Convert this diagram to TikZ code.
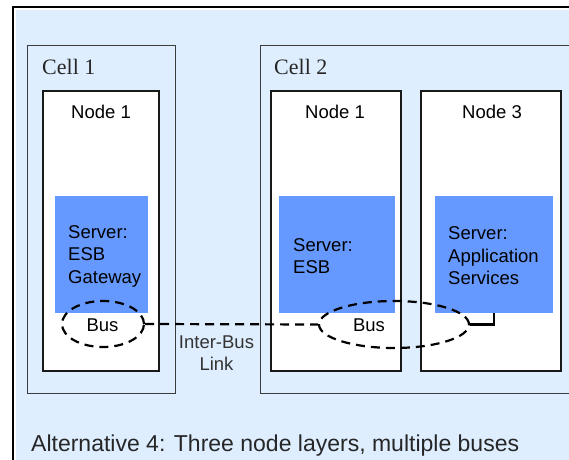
\documentclass[tikz,border=0pt]{standalone}
\usepackage{fontspec}
\setmainfont{Liberation Sans}
\newfontfamily\cellfont{Liberation Serif}
\usetikzlibrary{shapes.geometric}
\definecolor{bgblue}{RGB}{222,238,255}
\definecolor{srvblue}{RGB}{102,153,255}
\definecolor{cellgray}{RGB}{60,60,60}
\tikzset{
  cellbox/.style={draw=cellgray, line width=0.9bp},
  nodebox/.style={draw=black!90, line width=2.6bp, fill=white},
  srvbox/.style={fill=srvblue},
  lbl/.style={font=\fontsize{18.5bp}{22.5bp}\selectfont, inner sep=0pt},
  celllbl/.style={font=\cellfont\fontsize{22bp}{26bp}\selectfont, inner sep=0pt, text=black!85},
  busell/.style={draw=black, line width=2.2bp, dash pattern=on 9bp off 6bp, ellipse, inner sep=0pt},
  buslink/.style={draw=black, line width=2.2bp, dash pattern=on 9bp off 6bp},
}
\begin{document}
\begin{tikzpicture}[x=1bp,y=-1bp]
\useasboundingbox (0,0) rectangle (569,460);
\fill[white] (0,0) rectangle (569,460);
% outer frame
\begin{scope}
\clip (0,0) rectangle (569,460);
\draw[black, line width=1.2bp] (13,470) -- (13,7) -- (580,7);
\fill[bgblue] (16,10) rectangle (580,470);
% cells
\draw[cellbox] (27,45) rectangle (175,393);
\draw[cellbox] (590,45) -- (260,45) -- (260,393) -- (590,393);
\end{scope}
\node[celllbl, anchor=base west] (c1) at (42,75) {Cell 1};
\node[celllbl, anchor=base west] (c2) at (274,75) {Cell 2};
% node boxes
\draw[nodebox] (43,91) rectangle (159,371);
\draw[nodebox] (271,91) rectangle (401,371);
\draw[nodebox] (421,91) rectangle (561,371);
\node[lbl, anchor=base] (n1a) at (101,119) {Node 1};
\node[lbl, anchor=base] (n1b) at (335,119) {Node 1};
\node[lbl, anchor=base] (n3) at (492,119) {Node 3};
% servers
\node[srvbox, minimum width=93bp, minimum height=117bp, inner sep=0pt] (srv1) at (101.5,254.5) {};
\node[srvbox, minimum width=116bp, minimum height=117bp, inner sep=0pt] (srv2) at (337,254.5) {};
\node[srvbox, minimum width=118bp, minimum height=117bp, inner sep=0pt] (srv3) at (494,254.5) {};
\node[lbl, anchor=west, align=left] (t1) at (68,256) {Server:\\ESB\\Gateway};
\node[lbl, anchor=west, align=left] (t2) at (293,256) {Server:\\ESB};
\node[lbl, anchor=west, align=left] (t3) at (448,256) {Server:\\Application\\Services};
% buses
\node[busell, minimum width=82bp, minimum height=46bp] (bus1) at (103,324) {};
\node[busell, minimum width=150bp, minimum height=47bp] (bus2) at (394,324.5) {};
\node[lbl, anchor=base] (b1) at (102.5,331.5) {Bus};
\node[lbl, anchor=base] (b2) at (369,331.5) {Bus};
\draw[buslink] (bus1.east) -- (bus2.west);
\draw[black, line width=2.2bp] (bus2.east) -| (srv3.south);
\node[lbl, anchor=base, text=black!80] (ibl1) at (216.5,348) {Inter-Bus};
\node[lbl, anchor=base, text=black!80] (ibl2) at (216.5,370) {Link};
% caption
\node[anchor=base west, inner sep=0pt, font=\fontsize{23bp}{26bp}\selectfont, text=black!85] (cap) at (31,451) {Alternative 4: Three node layers, multiple buses};
\end{tikzpicture}
\end{document}
